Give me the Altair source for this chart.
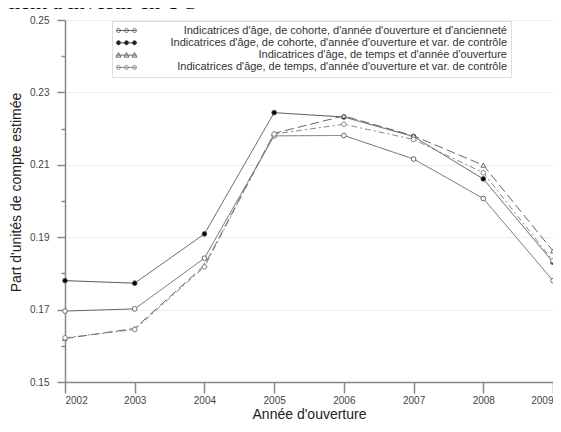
import altair as alt
import pandas as pd

years = [2002, 2003, 2004, 2005, 2006, 2007, 2008, 2009]
labels = [
    "Indicatrices d'âge, de cohorte, d'année d'ouverture et d'ancienneté",
    "Indicatrices d'âge, de cohorte, d'année d'ouverture et var. de contrôle",
    "Indicatrices d'âge, de temps et d'année d'ouverture",
    "Indicatrices d'âge, de temps, d'année d'ouverture et var. de contrôle",
]
s1 = [0.1696, 0.1702, 0.1842, 0.2180, 0.2181, 0.2116, 0.2007, 0.1780]
s2 = [0.1780, 0.1773, 0.1909, 0.2244, 0.2232, 0.2178, 0.2061, 0.1831]
s3 = [0.1620, 0.1648, 0.1822, 0.2187, 0.2235, 0.2180, 0.2099, 0.1862]
s4 = [0.1622, 0.1645, 0.1818, 0.2185, 0.2212, 0.2170, 0.2078, 0.1835]
series_values = [s1, s2, s3, s4]
y_ticks = [0.15, 0.16, 0.17, 0.18, 0.19, 0.20, 0.21, 0.22, 0.23, 0.24, 0.25]
header_text = "ment à investir en UC"

rows = []
for lab, vals in zip(labels, series_values):
    for yr, v in zip(years, vals):
        rows.append({"annee": yr, "part": v, "serie": lab})
df = pd.DataFrame(rows)

# styles
line_dash = [[1, 0], [1, 0], [9, 4], [6, 3, 2, 3]]
line_col = ["#666666", "#555555", "#666666", "#888888"]
pt_shape = ["circle", "circle", "triangle-up", "circle"]
pt_fill = ["white", "black", "white", "white"]
leg_stroke = ["#666666", "#444444", "#666666", "#888888"]


def circ(cx, r=0.4):
    return f"M{cx - r},0a{r},{r} 0 1,0 {2 * r},0a{r},{r} 0 1,0 {-2 * r},0"


def tri(cx, r=0.5):
    return f"M{cx - r},{r * 0.8}L{cx},{-r}L{cx + r},{r * 0.8}Z"


xs = [-0.6, 1.0, 2.6]
base = "M-1,0L3,0"
leg_paths = [
    base + "".join(circ(c) for c in xs),
    base + "".join(circ(c) for c in xs),
    base + "".join(tri(c) for c in xs),
    base + "".join(circ(c) for c in xs),
]

xscale = alt.Scale(domain=[2002, 2009], nice=False, zero=False)
yscale = alt.Scale(domain=[0.15, 0.25], nice=False, zero=False)

xaxis = alt.Axis(
    title="Année d'ouverture", values=years, format="d", grid=False,
    tickSize=11, tickColor="#888888", tickWidth=1.5, domainColor="#888888", domainWidth=1.5,
    labelFont="Liberation Sans", labelFontSize=10, labelColor="#444444", labelPadding=2,
    titleFont="Liberation Sans", titleFontSize=14, titleFontWeight="normal", titleColor="#222222",
    titlePadding=2,
)
is_minor = "round(datum.value*100) % 2 == 0"
yaxis = alt.Axis(
    title="Part d'unités de compte estimée", values=y_ticks, format=".2f",
    labelExpr="round(datum.value*100) % 2 == 0 ? '' : datum.label",
    grid=True, gridColor="#eeeeee",
    gridOpacity={"condition": {"test": is_minor, "value": 0}, "value": 1},
    tickSize={"condition": {"test": is_minor, "value": 4}, "value": 8},
    tickColor="#888888", tickWidth=1.5, domainColor="#888888", domainWidth=1.5,
    labelFont="Liberation Sans", labelFontSize=10, labelColor="#444444", labelPadding=8,
    titleFont="Liberation Sans", titleFontSize=14, titleFontWeight="normal", titleColor="#222222",
    titlePadding=6, titleY=172,
)
x_enc = alt.X("annee:Q", scale=xscale, axis=xaxis)
y_enc = alt.Y("part:Q", scale=yscale, axis=yaxis)

layers = []
for i, lab in enumerate(labels):
    sub = alt.Chart(df).transform_filter(alt.datum.serie == lab)
    line = sub.mark_line(
        color=line_col[i], strokeWidth=1, strokeDash=line_dash[i]
    ).encode(x=x_enc, y=y_enc)
    pts = sub.mark_point(
        shape=pt_shape[i], filled=True, fill=pt_fill[i], stroke=line_col[i],
        strokeWidth=1, size=22, opacity=1,
    ).encode(x=x_enc, y=y_enc)
    layers += [line, pts]

# legend-only layer: draws no marks, its scales carry the legend
legend_layer = alt.Chart(df).transform_filter("false").mark_point(
    filled=False, strokeWidth=1, opacity=1
).encode(
    x=x_enc,
    y=y_enc,
    shape=alt.Shape("serie:N", scale=alt.Scale(domain=labels, range=leg_paths), title=None,
                    legend=alt.Legend(
                        orient="none", legendX=47, legendY=1,
                        symbolSize=100, symbolStrokeWidth=1,
                        symbolOpacity=1, labelAlign="right", labelOffset=380,
                        labelFont="Liberation Sans", labelFontSize=11, labelColor="#333333",
                        labelLimit=500, rowPadding=0.3,
                        padding=4, strokeColor="#dddddd", fillColor="white",
                    )),
    fill=alt.Fill("serie:N", scale=alt.Scale(domain=labels, range=pt_fill), title=None),
    stroke=alt.Stroke("serie:N", scale=alt.Scale(domain=labels, range=leg_stroke), title=None),
)

chart = alt.layer(*layers, legend_layer).properties(
    width=488, height=362,
    padding={"left": 57, "top": 12, "right": 0, "bottom": 42},
    autosize=alt.AutoSizeParams(type="none"),
    title=alt.TitleParams(
        header_text, anchor="start", frame="group",
        font="Liberation Serif", fontSize=22, fontWeight="normal", color="black",
        dx=-62, offset=1,
    ),
).configure_view(stroke=None)

chart.save("out.html", embed_options={"renderer": "svg", "actions": False})
